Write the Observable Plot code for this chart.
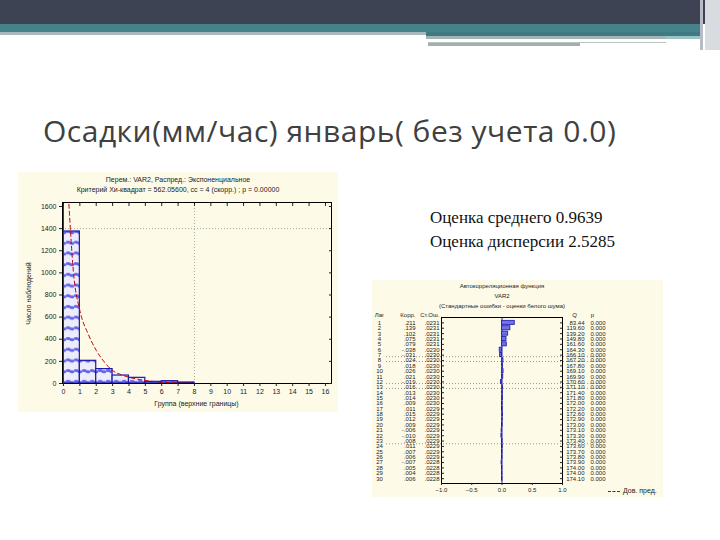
<!DOCTYPE html>
<html><head><meta charset="utf-8">
<script src="https://cdn.jsdelivr.net/npm/d3@7"></script>
<script src="https://cdn.jsdelivr.net/npm/@observablehq/plot@0.6"></script>
<style>
body{margin:0;width:720px;height:540px;background:#fff;position:relative;overflow:hidden;font-family:"Liberation Sans",Arial,sans-serif}
.abs{position:absolute}
.small{font-size:7px;color:#222;white-space:nowrap}
.tiny{font-size:6px;color:#222;white-space:nowrap}
</style></head><body>
<!-- slide decoration -->
<div class="abs" style="left:0;top:0;width:720px;height:24px;background:#3e4354"></div>
<div class="abs" style="left:0;top:24px;width:700px;height:8px;background:#45828a"></div>
<div class="abs" style="left:0;top:32px;width:426px;height:3px;background:#a8b8bc"></div>
<div class="abs" style="left:426px;top:32px;width:274px;height:4px;background:#3f7a82"></div>
<div class="abs" style="left:426px;top:36px;width:240px;height:3px;background:#a5b5b5"></div>
<div class="abs" style="left:666px;top:36px;width:34px;height:3px;background:#9cc4c8"></div>
<div class="abs" style="left:428px;top:39px;width:238px;height:3px;background:#fff;border-bottom:1px solid #b8c4c4"></div>
<div class="abs" style="left:428px;top:43px;width:152px;height:3px;background:#a0b0b0"></div>
<div class="abs" style="left:700px;top:0;width:3px;height:50px;background:#b8bcc8"></div>
<div class="abs" style="left:705px;top:0;width:15px;height:50px;background:#d8dce0"></div>

<div id="title" class="abs" style="left:43px;top:116px;font-family:'Open Sans',sans-serif;font-size:30px;line-height:30px;letter-spacing:0.5px;color:#404040;white-space:nowrap">Осадки(мм/час) январь( без учета 0.0)</div>

<div class="abs" style="left:430px;top:206px;font-family:'Liberation Serif',serif;font-size:17px;line-height:24px;color:#111;white-space:nowrap">Оценка среднего 0.9639<br>Оценка дисперсии 2.5285</div>

<!-- histogram panel -->
<div id="hist" class="abs" style="left:18px;top:172px;width:320px;height:240px;background:#fdfbe8">
  <div class="abs small" style="left:0;width:320px;top:4px;text-align:center">Перем.: VAR2, Распред.: Экспоненциальное</div>
  <div class="abs small" style="left:0;width:320px;top:14px;text-align:center">Критерий Хи-квадрат = 562.05600, сс = 4 (скорр.) ; p = 0.00000</div>
  <div id="histPlot" class="abs" style="left:0;top:23px"></div>
  <div class="abs small" style="left:44px;width:269px;top:228px;text-align:center">Группа (верхние границы)</div>
  <div class="abs small" style="left:-35px;top:118px;width:90px;text-align:center;transform:rotate(-90deg)">Число наблюдений</div>
</div>

<!-- autocorrelation panel -->
<div id="acfBox" class="abs" style="left:372px;top:280px;width:291px;height:217px;background:#fdfbe8">
  <div class="abs tiny" style="left:60px;width:140px;top:3px;text-align:center">Автокорреляционная функция</div>
  <div class="abs tiny" style="left:60px;width:140px;top:13px;text-align:center">VAR2</div>
  <div class="abs tiny" style="left:40px;width:180px;top:23px;text-align:center">(Стандартные ошибки - оценки белого шума)</div>
  <div id="acfPlot" class="abs" style="left:0;top:32px"></div>
  <div class="abs tiny" style="left:236px;top:207px;font-size:7px"><span style="display:inline-block;width:12px;border-top:1px dashed #c00000;vertical-align:middle;margin-right:3px"></span>Дов. пред.</div>
</div>

<script>
// ---- Histogram data ----
const binLo = [0, 1, 2, 3, 4, 5, 6, 7];
const binHi = [1, 2, 3, 4, 5, 6, 7, 8];
const binCount = [1374, 205, 130, 72, 51, 15, 21, 9];
const curveX = [0.33, 0.6, 1, 1.5, 2, 2.5, 3, 3.5, 4, 5, 6, 7, 8];
const curveY = [1620, 1020, 660, 450, 300, 193, 117, 81, 57, 27, 12, 5, 2];
const histXTicks = [0,1,2,3,4,5,6,7,8,9,10,11,12,13,14,15,16];
const histYTicks = [0,200,400,600,800,1000,1200,1400,1600];
const histGridY = [1400];
const histGridX = [8];

// ---- Autocorrelation data ----
const lags = [1,2,3,4,5,6,7,8,9,10,11,12,13,14,15,16,17,18,19,20,21,22,23,24,25,26,27,28,29,30];
const corr = [.211,.139,.102,.075,.079,-.038,-.031,.024,.018,.026,.021,-.019,.016,.013,.014,.009,.011,.015,.012,.009,-.006,-.010,.008,.011,.007,.006,-.007,.005,.004,.006];
const stdErr = [.0231,.0231,.0231,.0231,.0231,.0230,.0230,.0230,.0230,.0230,.0230,.0230,.0230,.0230,.0230,.0230,.0229,.0229,.0229,.0229,.0229,.0229,.0229,.0229,.0229,.0229,.0228,.0228,.0228,.0228];
const qStat = [83.44,119.6,139.2,149.8,161.6,164.3,166.1,167.2,167.8,169.1,169.9,170.6,171.1,171.4,171.8,172.0,172.2,172.6,172.9,173.0,173.1,173.3,173.4,173.6,173.7,173.8,173.9,174.0,174.0,174.1];
const pVal = lags.map(() => "0.000");
const acfXTicks = [-1, -0.5, 0, 0.5, 1];
const acfDottedRows = [7.3, 8.2, 12.3, 13.2, 23.5];

const font = '"Liberation Sans", Arial, sans-serif';

function defsMark() {
  const ns = "http://www.w3.org/2000/svg";
  const defs = document.createElementNS(ns, "defs");
  defs.innerHTML = `<pattern id="hatch" patternUnits="userSpaceOnUse" width="8" height="10.7">
    <rect width="8" height="10.7" fill="#ececfc"/>
    <path d="M0,5 Q2,3.5 4,5 T8,5" stroke="#6565e6" stroke-width="2.6" fill="none"/>
  </pattern>`;
  return defs;
}

const bins = binLo.map((lo, i) => ({lo, hi: binHi[i], count: binCount[i]}));
const curve = curveX.map((x, i) => ({x, y: curveY[i]}));

const hist = Plot.plot({
  width: 320, height: 217,
  marginTop: 7, marginBottom: 29, marginLeft: 44, marginRight: 7,
  style: {fontSize: "7px", fontFamily: font, background: "transparent", color: "#222"},
  x: {domain: [-0.06, 16.37], label: null},
  y: {domain: [0, 1636], label: null},
  marks: [
    defsMark,
    Plot.ruleY(histGridY, {stroke: "#aaa", strokeDasharray: "1,2"}),
    Plot.ruleX(histGridX, {stroke: "#aaa", strokeDasharray: "1,2"}),
    Plot.rect(bins, {x1: "lo", x2: "hi", y1: 0, y2: "count", fill: "url(#hatch)", stroke: "#1a1aa8", strokeWidth: 1.2}),
    Plot.ruleX([0], {y1: 0, y2: 1600, stroke: "#c00000", strokeWidth: 1}),
    Plot.line(curve, {x: "x", y: "y", stroke: "#c00000", strokeWidth: 1, strokeDasharray: "4,3", curve: "monotone-x"}),
    Plot.frame({stroke: "#000"}),
    Plot.axisX(histXTicks, {anchor: "bottom", tickSize: 3, tickPadding: 3, tickFormat: d => String(d), label: null}),
    Plot.axisX(histXTicks, {anchor: "top", tickSize: -3, tickFormat: () => "", label: null}),
    Plot.axisY(histYTicks, {anchor: "left", tickSize: 3, tickPadding: 3, tickFormat: d => String(d), label: null}),
    Plot.axisY(histYTicks, {anchor: "right", tickSize: -3, tickFormat: () => "", label: null})
  ]
});
document.getElementById("histPlot").appendChild(hist);

const acf = lags.map((lag, i) => ({lag, corr: corr[i], se: stdErr[i], q: qStat[i], p: pVal[i]}));
const fCorr = d => (d < 0 ? "-" : "") + d3.format(".3f")(Math.abs(d)).replace(/^0/, "");
const fSe = d => d3.format(".4f")(d).replace(/^0/, "");

const acfPlot = Plot.plot({
  width: 291, height: 185,
  marginTop: 5, marginBottom: 14, marginLeft: 69, marginRight: 101,
  style: {fontSize: "6px", fontFamily: font, background: "transparent", color: "#222", overflow: "visible"},
  x: {domain: [-1, 1], label: null},
  y: {domain: [0, 30.9], reverse: true, label: null},
  marks: [
    Plot.ruleY(acfDottedRows, {stroke: "#999", strokeDasharray: "1,2", insetLeft: -55, insetRight: -40}),
    Plot.ruleX([0], {stroke: "#2020c0", strokeWidth: 1}),
    Plot.rectX(acf, {y1: d => d.lag - 0.38, y2: d => d.lag + 0.38, x1: 0, x2: "corr", fill: "#7070ea", stroke: "#1a1aa8", strokeWidth: 0.8}),
    Plot.text(["Лаг"], {y: () => 0, frameAnchor: "left", dx: -62, dy: -2, textAnchor: "middle"}),
    Plot.text(["Корр."], {y: () => 0, frameAnchor: "left", dx: -26, dy: -2, textAnchor: "end"}),
    Plot.text(["Ст.Ош."], {y: () => 0, frameAnchor: "left", dx: -2, dy: -2, textAnchor: "end"}),
    Plot.text(["Q"], {y: () => 0, frameAnchor: "right", dx: 12, dy: -2, textAnchor: "middle"}),
    Plot.text(["p"], {y: () => 0, frameAnchor: "right", dx: 30, dy: -2, textAnchor: "middle"}),
    Plot.text(acf, {y: "lag", text: d => String(d.lag), frameAnchor: "left", dx: -62, textAnchor: "middle"}),
    Plot.text(acf, {y: "lag", text: d => fCorr(d.corr), frameAnchor: "left", dx: -26, textAnchor: "end"}),
    Plot.text(acf, {y: "lag", text: d => fSe(d.se), frameAnchor: "left", dx: -2, textAnchor: "end"}),
    Plot.text(acf, {y: "lag", text: d => d3.format(".2f")(d.q), frameAnchor: "right", dx: 22, textAnchor: "end"}),
    Plot.text(acf, {y: "lag", text: "p", frameAnchor: "right", dx: 43, textAnchor: "end"}),
    Plot.frame({stroke: "#000"}),
    Plot.axisX(acfXTicks, {anchor: "bottom", tickSize: 2, tickPadding: 2, tickFormat: d3.format(".1f"), label: null}),
    Plot.axisY(lags, {anchor: "left", tickSize: -3, tickFormat: () => "", label: null}),
    Plot.axisY(lags, {anchor: "right", tickSize: -3, tickFormat: () => "", label: null})
  ]
});
document.getElementById("acfPlot").appendChild(acfPlot);
</script>
</body></html>
